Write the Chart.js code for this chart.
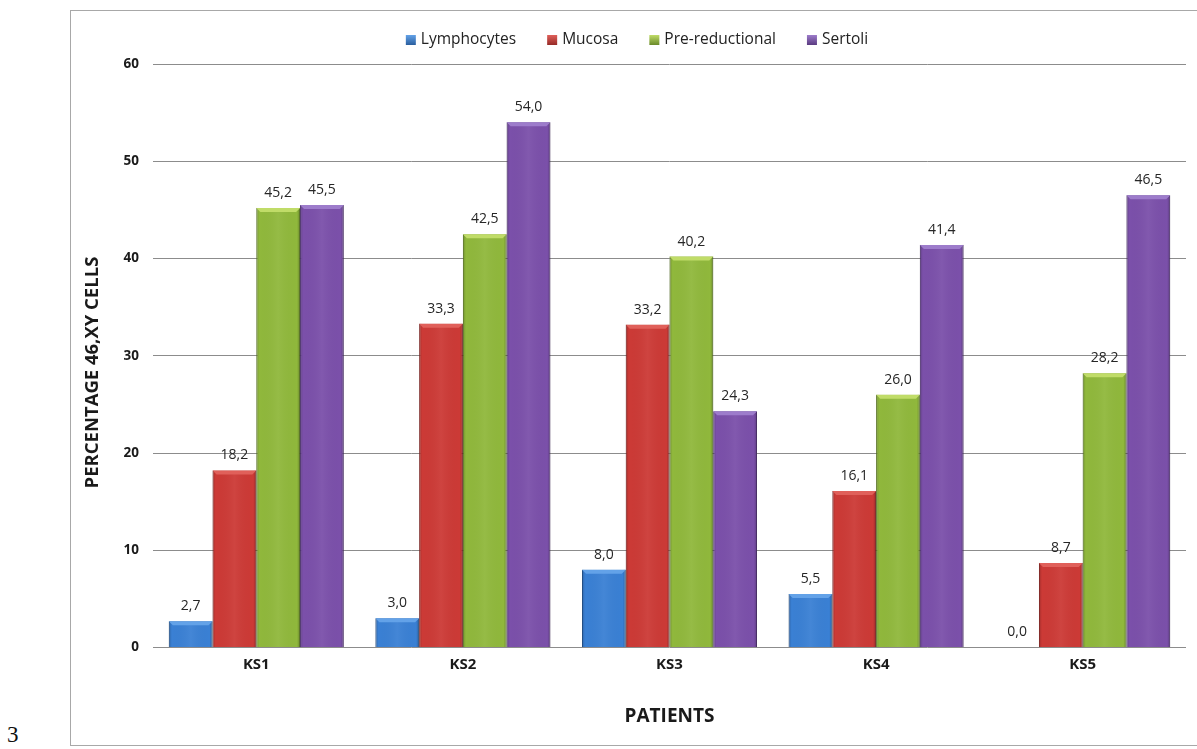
<!DOCTYPE html>
<html>
<head>
<meta charset="utf-8">
<script src="https://cdn.jsdelivr.net/npm/chart.js@4"></script>
<style>
  html, body { margin: 0; padding: 0; background: #fff; }
  body { width: 1197px; height: 749px; position: relative; overflow: hidden; }
  #frame { position: absolute; left: 70px; top: 10px; width: 1140px; height: 736px; border: 1px solid #a8a8a8; box-sizing: border-box; }
  #fig { position: absolute; left: 7px; top: 722px; font-family: "Liberation Serif", serif; font-size: 23px; color: #111; }
  #c { position: absolute; left: 0; top: 0; }
</style>
</head>
<body>
<div id="frame"></div>
<div id="fig">3</div>
<canvas id="c" width="1197" height="749"></canvas>
<script>
// Patients and percentage of 46,XY cells per tissue
const patients = ['KS1', 'KS2', 'KS3', 'KS4', 'KS5'];
const lymphocytes = [2.7, 3.0, 8.0, 5.5, 0.0];
const mucosa = [18.2, 33.3, 33.2, 16.1, 8.7];
const preReductional = [45.2, 42.5, 40.2, 26.0, 28.2];
const sertoli = [45.5, 54.0, 24.3, 41.4, 46.5];
const yTicks = [0, 10, 20, 30, 40, 50, 60];

const seriesNames = ['Lymphocytes', 'Mucosa', 'Pre-reductional', 'Sertoli'];
const seriesValues = [lymphocytes, mucosa, preReductional, sertoli];
const fills = ['#3a80d4', '#cc3a36', '#90b83c', '#7b50aa'];
const edges = ['#2a5e9e', '#962a27', '#6a8a2a', '#5a3a80'];
const caps = ['#63a2e8', '#e0605a', '#c0dc68', '#9d7ccb'];

const FONT = '"Open Sans", "Liberation Sans", sans-serif';

// Shading on each bar: darker sides and a light bevelled top
const bevelPlugin = {
  id: 'bevel',
  afterDatasetsDraw(chart) {
    const ctx = chart.ctx;
    chart.data.datasets.forEach((ds, di) => {
      const meta = chart.getDatasetMeta(di);
      meta.data.forEach((bar) => {
        const h = bar.base - bar.y;
        if (h < 1) return;
        const l = bar.x - bar.width / 2, r = bar.x + bar.width / 2;
        ctx.save();
        const g = ctx.createLinearGradient(l, 0, r, 0);
        g.addColorStop(0, 'rgba(0,0,0,0.2)');
        g.addColorStop(0.07, 'rgba(0,0,0,0.0)');
        g.addColorStop(0.5, 'rgba(255,255,255,0.05)');
        g.addColorStop(0.93, 'rgba(0,0,0,0.0)');
        g.addColorStop(1, 'rgba(0,0,0,0.25)');
        ctx.fillStyle = g;
        ctx.fillRect(l, bar.y, r - l, h);
        const d = Math.min(4, h);
        ctx.beginPath();
        ctx.moveTo(l, bar.y);
        ctx.lineTo(r, bar.y);
        ctx.lineTo(r - 4, bar.y + d);
        ctx.lineTo(l + 4, bar.y + d);
        ctx.closePath();
        ctx.fillStyle = caps[di];
        ctx.fill();
        ctx.restore();
      });
    });
  }
};

// Value labels above every bar, with a decimal comma
const valueLabels = {
  id: 'valueLabels',
  afterDatasetsDraw(chart) {
    const ctx = chart.ctx;
    ctx.save();
    ctx.font = '14px ' + FONT;
    ctx.fillStyle = '#262626';
    ctx.textAlign = 'center';
    ctx.textBaseline = 'middle';
    chart.data.datasets.forEach((ds, di) => {
      chart.getDatasetMeta(di).data.forEach((bar, i) => {
        const txt = ds.data[i].toFixed(1).replace('.', ',');
        ctx.fillText(txt, bar.x, bar.y - 15);
      });
    });
    ctx.restore();
  }
};

// Legend row across the top
const topLegend = {
  id: 'topLegend',
  afterDraw(chart) {
    const ctx = chart.ctx;
    ctx.save();
    ctx.font = '15.5px ' + FONT;
    ctx.textBaseline = 'middle';
    const box = 10, gapText = 5, gapItem = 31, y = 40;
    const widths = chart.data.datasets.map(ds => box + gapText + ctx.measureText(ds.label).width);
    const total = widths.reduce((a, b) => a + b, 0) + gapItem * (widths.length - 1);
    let x = 637 - total / 2;
    chart.data.datasets.forEach((ds, di) => {
      const g = ctx.createLinearGradient(0, y - box / 2, 0, y + box / 2);
      g.addColorStop(0, caps[di]);
      g.addColorStop(1, edges[di]);
      ctx.fillStyle = g;
      ctx.fillRect(x, y - box / 2, box, box);
      ctx.fillStyle = '#222';
      ctx.fillText(ds.label, x + box + gapText, y);
      x += widths[di] + gapItem;
    });
    ctx.restore();
  }
};

new Chart(document.getElementById('c'), {
  type: 'bar',
  data: {
    labels: patients,
    datasets: seriesNames.map((name, i) => ({
      label: name,
      data: seriesValues[i],
      backgroundColor: fills[i],
      borderColor: edges[i],
      borderWidth: 1,
      barPercentage: 1,
      categoryPercentage: 0.847
    }))
  },
  options: {
    responsive: false,
    animation: false,
    layout: { padding: { left: 70, right: 11, top: 64, bottom: 1 } },
    plugins: { legend: { display: false }, tooltip: { enabled: false } },
    scales: {
      x: {
        grid: { display: false, drawTicks: false },
        border: { display: false },
        ticks: { font: { family: FONT, size: 15, weight: 'bold' }, color: '#1a1a1a', padding: 8 },
        title: { display: true, text: 'PATIENTS', font: { family: FONT, size: 19, weight: 'bold' }, color: '#1a1a1a', padding: { top: 0, bottom: 20 } },
        afterFit(scale) { scale.height = 100.5; }
      },
      y: {
        min: yTicks[0],
        max: yTicks[yTicks.length - 1],
        afterBuildTicks(scale) { scale.ticks = yTicks.map(v => ({ value: v })); },
        grid: { color: '#8c8c8c', lineWidth: 1, drawTicks: false },
        border: { display: false },
        ticks: { font: { family: FONT, size: 13.5, weight: 'bold' }, color: '#1a1a1a', padding: 14 },
        title: { display: true, text: 'PERCENTAGE 46,XY CELLS       ', font: { family: FONT, size: 18.5, weight: 'bold' }, color: '#1a1a1a', padding: { top: 12, bottom: 0 } },
        afterFit(scale) { scale.width = 83; }
      }
    }
  },
  plugins: [bevelPlugin, valueLabels, topLegend]
});
</script>
</body>
</html>
